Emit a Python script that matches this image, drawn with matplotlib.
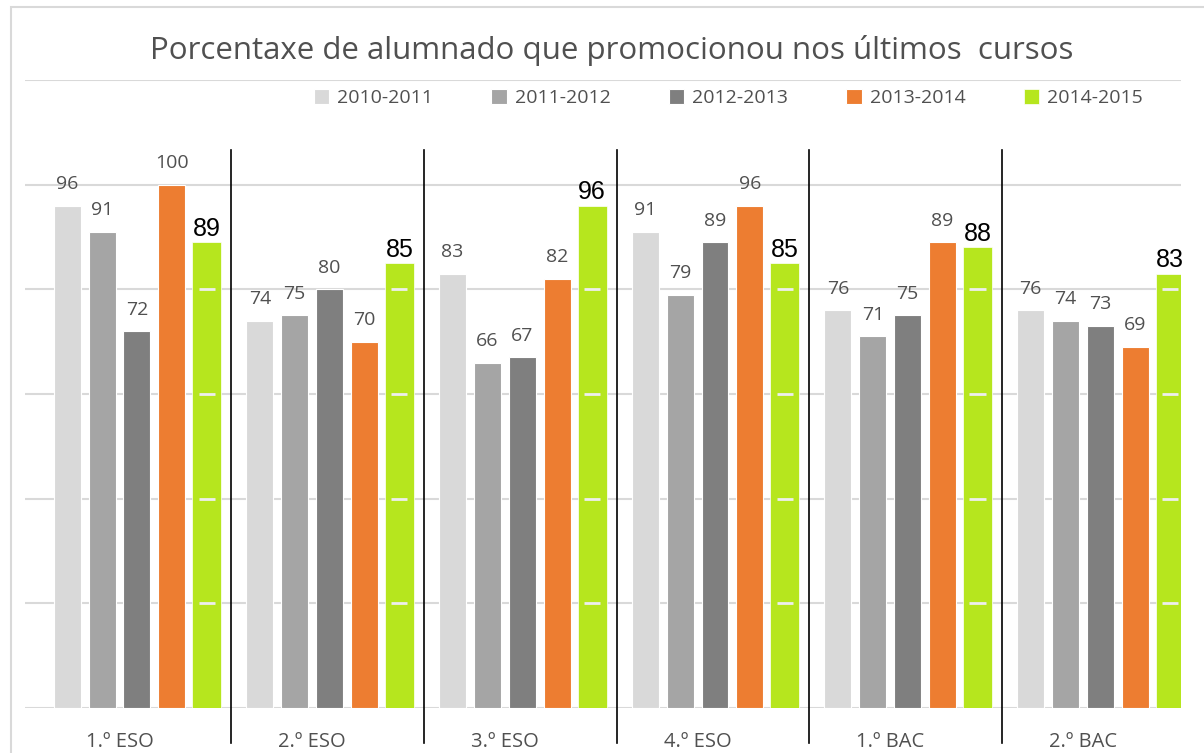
import numpy as np
import matplotlib.pyplot as plt
from matplotlib.patches import Rectangle

# data
categories = ['1.º ESO', '2.º ESO', '3.º ESO', '4.º ESO', '1.º BAC', '2.º BAC']
years = ['2010-2011', '2011-2012', '2012-2013', '2013-2014', '2014-2015']
v2010 = [96, 74, 83, 91, 76, 76]
v2011 = [91, 75, 66, 79, 71, 74]
v2012 = [72, 80, 67, 89, 75, 73]
v2013 = [100, 70, 82, 96, 89, 69]
v2014 = [89, 85, 96, 85, 88, 83]

series = [v2010, v2011, v2012, v2013, v2014]
colors = ['#d9d9d9', '#a5a5a5', '#7f7f7f', '#ed7d31', '#b6e61e']
txt = '#505050'
font = 'Open Sans'

slot = 0.181
width = 0.14

fig = plt.figure(figsize=(12.04, 7.53), dpi=100)
ax = fig.add_axes([0.0208, 0.0598, 0.9603, 0.8340])

# outer chart border
fig.add_artist(Rectangle((11 / 1204, -0.1), 1.2, 1 - 7 / 753 + 0.1,
                         transform=fig.transFigure, fill=False,
                         edgecolor='#d9d9d9', lw=1.5))

x = np.arange(len(categories))
handles = []
for k, (vals, col, yr) in enumerate(zip(series, colors, years)):
    pos = x + (k + 1 - 2.5) * slot
    green = (k == 4)
    if green:
        b = ax.bar(pos, np.array(vals) + 0.6, bottom=-0.6, width=0.15, color=col,
                   edgecolor='white', linewidth=0.5, zorder=3, label=yr)
    else:
        b = ax.bar(pos, vals, width=width, color=col, edgecolor='white',
                   linewidth=0.8, zorder=3, label=yr)
    handles.append(b)
    for p, v in zip(pos, vals):
        if green:
            ax.annotate(str(v), (p, v), xytext=(0, 4.5), textcoords='offset points',
                        ha='center', va='baseline', fontsize=18,
                        family='Liberation Sans', color='black', zorder=5)
            # light dashes where the gridlines cross the green bar
            for g in range(20, v, 20):
                ax.plot([p - 0.042, p + 0.042], [g, g], color='#eeeeee',
                        lw=2, zorder=4, solid_capstyle='butt')
        else:
            ax.annotate(str(v), (p, v), xytext=(0, 12), textcoords='offset points',
                        ha='center', va='baseline', fontsize=14,
                        family=font, color=txt, zorder=5)

# group separators
for i in range(len(categories) - 1):
    ax.plot([i + 0.58, i + 0.58], [-6.7, 106.7], color='black', lw=1.2,
            clip_on=False, zorder=6)

ax.set_xlim(-0.49, 5.51)
ax.set_ylim(0, 120)
ax.set_yticks(np.arange(0, 121, 20))
ax.set_yticklabels([])
ax.yaxis.grid(True, color='#d9d9d9', lw=1.5, zorder=0)
ax.set_axisbelow(True)
ax.tick_params(length=0)
ax.set_xticks(x)
ax.set_xticklabels(categories, fontsize=14.5, family=font, color=txt)
ax.tick_params(axis='x', pad=17)
for s in ax.spines.values():
    s.set_visible(False)

fig.text(0.508, 0.933, 'Porcentaxe de alumnado que promocionou nos últimos  cursos',
         ha='center', va='center', fontsize=22.5, family=font, color=txt)

fig.legend(handles=handles, loc='center', bbox_to_anchor=(0.605, 0.870), ncol=5,
           frameon=False, handlelength=0.8, handleheight=0.8, handletextpad=0.4,
           columnspacing=3.0, prop={'family': font, 'size': 14}, labelcolor=txt)

fig.savefig('out.png', dpi=100)
